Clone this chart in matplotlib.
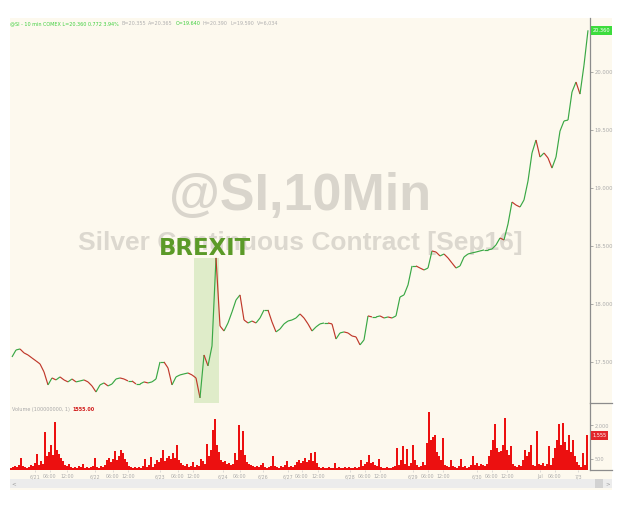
import matplotlib
matplotlib.use("Agg")
import matplotlib.pyplot as plt
import numpy as np
from matplotlib.collections import LineCollection
from matplotlib.patches import Rectangle
from matplotlib.lines import Line2D

# ---------------- data ----------------
price = [
    17.543, 17.603, 17.612, 17.578, 17.560, 17.534, 17.509, 17.483, 17.414, 17.302,
    17.362, 17.345, 17.371, 17.345, 17.328, 17.353, 17.328, 17.336, 17.345, 17.328,
    17.293, 17.241, 17.302, 17.319, 17.293, 17.310, 17.353, 17.362, 17.353, 17.336,
    17.336, 17.310, 17.310, 17.328, 17.319, 17.328, 17.353, 17.500, 17.500, 17.448,
    17.302, 17.371, 17.388, 17.397, 17.405, 17.388, 17.362, 17.190, 17.560, 17.466,
    17.638, 18.397, 17.810, 17.767, 17.836, 17.931, 18.034, 18.078, 17.862, 17.836,
    17.853, 17.836, 17.879, 17.948, 17.948, 17.845, 17.759, 17.784, 17.828, 17.853,
    17.862, 17.879, 17.914, 17.879, 17.828, 17.767, 17.802, 17.828, 17.836, 17.836,
    17.828, 17.698, 17.750, 17.759, 17.750, 17.724, 17.716, 17.647, 17.690, 17.897,
    17.888, 17.888, 17.897, 17.879, 17.888, 17.879, 17.897, 18.060, 18.078, 18.164,
    18.328, 18.328, 18.310, 18.293, 18.310, 18.457, 18.448, 18.414, 18.431, 18.397,
    18.353, 18.310, 18.328, 18.405, 18.431, 18.440, 18.448, 18.457, 18.466, 18.466,
    18.474, 18.509, 18.569, 18.552, 18.690, 18.879, 18.853, 18.836, 18.897, 19.060,
    19.302, 19.414, 19.267, 19.302, 19.259, 19.172, 19.267, 19.491, 19.578, 19.586,
    19.828, 19.914, 19.810, 20.060, 20.360,
]

volume = [
    90, 135, 180, 135, 225, 540, 180, 135, 90, 135,
    225, 180, 315, 720, 225, 405, 270, 1710, 630, 810,
    1125, 675, 2160, 900, 720, 540, 405, 225, 180, 270,
    135, 90, 135, 90, 180, 135, 270, 90, 135, 90,
    135, 180, 540, 135, 90, 180, 135, 225, 450, 540,
    360, 495, 855, 450, 630, 900, 765, 495, 360, 180,
    135, 90, 135, 90, 135, 90, 180, 495, 135, 225,
    585, 135, 270, 450, 360, 540, 900, 405, 540, 630,
    495, 765, 540, 1125, 450, 315, 225, 180, 270, 135,
    180, 360, 135, 225, 180, 495, 405, 270, 1170, 630,
    900, 1800, 2295, 1125, 810, 450, 360, 405, 270, 315,
    225, 270, 765, 450, 2025, 900, 1755, 675, 360, 270,
    225, 180, 135, 180, 135, 225, 315, 135, 90, 135,
    180, 630, 180, 135, 90, 180, 135, 225, 405, 135,
    180, 135, 225, 360, 450, 315, 405, 540, 360, 450,
    765, 405, 810, 315, 135, 90, 135, 90, 90, 135,
    90, 90, 315, 90, 135, 90, 90, 135, 90, 135,
    90, 90, 135, 90, 135, 450, 180, 270, 360, 675,
    315, 360, 225, 180, 495, 135, 90, 90, 135, 90,
    90, 135, 180, 990, 225, 450, 1080, 270, 945, 180,
    315, 1125, 450, 225, 135, 180, 360, 225, 1215, 2610,
    1350, 1485, 1575, 810, 630, 450, 1440, 225, 180, 135,
    450, 180, 135, 90, 180, 495, 135, 180, 90, 135,
    225, 630, 225, 315, 180, 270, 225, 180, 270, 630,
    900, 1350, 2070, 990, 810, 855, 1125, 2340, 900, 675,
    1080, 270, 180, 135, 225, 180, 450, 900, 630, 810,
    1125, 225, 180, 1755, 270, 225, 315, 180, 270, 1080,
    225, 540, 990, 1350, 2070, 1125, 2115, 1260, 900, 1575,
    810, 1350, 630, 360, 225, 135, 765, 225, 1555,
]

time_tick_slots = [12, 19.5, 28, 42, 51, 58.5, 74.5, 83.5, 91, 106, 114.5, 126,
                   138.5, 145.5, 153.5, 169.5, 177, 184.5, 201, 208.5, 216,
                   233, 240.5, 248, 264.5, 272, 283.5]
time_tick_labels = ["6/21", "06:00", "12:00", "6/22", "06:00", "12:00",
                    "6/23", "06:00", "12:00", "6/24", "06:00", "6/26",
                    "6/27", "06:00", "12:00", "6/28", "06:00", "12:00",
                    "6/29", "06:00", "12:00", "6/30", "06:00", "12:00",
                    "Jul", "06:00", "7/3"]
price_ticks = [17.5, 18.0, 18.5, 19.0, 19.5, 20.0]
volume_ticks = [500, 2000]
price_range = (17.146, 20.466)
volume_range = (0, 3000)
brexit_span = (91.5, 104.0)
brexit_top = 18.40

header_parts = [
    ("@SI - 10 min COMEX L=20.360 0.772 3.94%", "#3fcf3f"),
    ("B=20.355", "#b0b0b0"),
    ("A=20.365", "#b0b0b0"),
    ("O=19.640", "#3fcf3f"),
    ("H=20.390", "#b0b0b0"),
    ("L=19.590", "#b0b0b0"),
    ("V=6,034", "#b0b0b0"),
]

# ---------------- layout ----------------
W, H, DPI = 632, 507, 100
BG = "#fdf9ee"
AXC = "#8c8c8c"
LBL = "#ababab"


def fx(px):
    return px / W


def fy(py):
    return 1 - py / H


fig = plt.figure(figsize=(W / DPI, H / DPI), dpi=DPI, facecolor="white")
fig.patches.append(Rectangle((fx(10), fy(490)), fx(612) - fx(10), fy(18) - fy(490),
                             transform=fig.transFigure, facecolor=BG,
                             edgecolor="none", zorder=-5))

ax = fig.add_axes([fx(10), fy(403), fx(590) - fx(10), fy(18) - fy(403)])
axv = fig.add_axes([fx(10), fy(470), fx(590) - fx(10), fy(403) - fy(470)], sharex=ax)
for a in (ax, axv):
    a.set_facecolor("none")
    for s in ("top", "left", "bottom"):
        a.spines[s].set_visible(False)
    a.spines["right"].set_color(AXC)
    a.spines["right"].set_linewidth(0.9)
    a.yaxis.tick_right()

# price line, segments coloured by direction
xp = 2 * np.arange(len(price)) + 0.5
pts = np.column_stack([xp, price])
segs = np.stack([pts[:-1], pts[1:]], axis=1)
cols = ["#3aa845" if b >= a_ else "#c0392b" for a_, b in zip(price[:-1], price[1:])]
ax.add_collection(LineCollection(segs, colors=cols, linewidths=0.85, zorder=3))
ax.set_xlim(-0.5, len(volume) + 0.5)
ax.set_ylim(*price_range)

ax.axvspan(brexit_span[0], brexit_span[1], ymin=0,
           ymax=(brexit_top - price_range[0]) / (price_range[1] - price_range[0]),
           facecolor="#dfecc9", edgecolor="none", zorder=1)

ax.set_yticks(price_ticks)
ax.set_yticklabels([f"{v:.3f}" for v in price_ticks])
ax.tick_params(axis="y", direction="out", length=2, width=0.5, color=AXC,
               labelsize=3.8, labelcolor=LBL, pad=1.5)
ax.tick_params(axis="x", bottom=False, labelbottom=False)

# watermark + BREXIT
ax.text(fx(300), fy(210), "@SI,10Min", transform=fig.transFigure, ha="center",
        va="baseline", fontsize=37.5, fontweight="bold", family="Liberation Sans",
        color="#d9d5cc", zorder=0.5)
ax.text(fx(300), fy(250), "Silver Continuous Contract [Sep16]", transform=fig.transFigure,
        ha="center", va="baseline", fontsize=19, fontweight="bold",
        family="Liberation Sans", color="#dcd8cf", zorder=0.5)
ax.text(fx(205), fy(255), "BREXIT", transform=fig.transFigure, ha="center",
        va="baseline", fontsize=16.4, fontweight="bold", family="DejaVu Sans",
        color="#5b9a28", zorder=4)

# price tag
ax.annotate(f"{price[-1]:.3f}", xy=(1, price[-1]), xycoords=("axes fraction", "data"),
            xytext=(1.8, 0), textcoords="offset points", ha="left", va="center",
            fontsize=3.6, color="white", annotation_clip=False,
            bbox=dict(boxstyle="square,pad=0.35", fc="#3ddc3d", ec="none"))

# volume
axv.bar(np.arange(len(volume)), volume, width=1.0, color="#ec1010", linewidth=0, zorder=2)
axv.set_ylim(*volume_range)
axv.set_yticks(volume_ticks)
axv.set_yticklabels([f"{v:,}" for v in volume_ticks])
axv.tick_params(axis="y", direction="out", length=2, width=0.5, color=AXC,
                labelsize=3.6, labelcolor=LBL, pad=1.5)
axv.set_xticks(time_tick_slots)
axv.set_xticklabels(time_tick_labels)
axv.tick_params(axis="x", direction="out", length=1.5, width=0.4, color="#c0c0c0",
                labelsize=3.4, labelcolor=LBL, pad=1.5)
axv.annotate(f"{volume[-1]:,}", xy=(1, volume[-1]), xycoords=("axes fraction", "data"),
             xytext=(1.8, 0), textcoords="offset points", ha="left", va="center",
             fontsize=3.6, color="white", annotation_clip=False,
             bbox=dict(boxstyle="square,pad=0.35", fc="#e2262a", ec="none"))

# right-margin separators
for yy in (403, 470):
    fig.add_artist(Line2D([fx(590), fx(612)], [fy(yy), fy(yy)], color=AXC, lw=0.9))

# scrollbar
fig.patches.append(Rectangle((fx(10), fy(488)), fx(612) - fx(10), fy(479) - fy(488),
                             transform=fig.transFigure, facecolor="#ececec",
                             edgecolor="none", zorder=-4))
fig.patches.append(Rectangle((fx(595), fy(488)), fx(603) - fx(595), fy(479) - fy(488),
                             transform=fig.transFigure, facecolor="#d2d2d2",
                             edgecolor="none", zorder=-3))
fig.text(fx(14), fy(483.5), "<", fontsize=4, color="#999999", va="center", ha="center")
fig.text(fx(607.5), fy(483.5), ">", fontsize=4, color="#999999", va="center", ha="center")

# header and volume label, placed sequentially
renderer = fig.canvas.get_renderer()


def seq_text(x_px, y_px, parts, size, gap):
    x = x_px
    for s, c, *w in parts:
        t = fig.text(fx(x), fy(y_px), s, color=c, fontsize=size,
                     fontweight=(w[0] if w else "normal"), va="baseline", ha="left")
        x += t.get_window_extent(renderer).width + gap


seq_text(10, 25, header_parts, 3.5, 2.5)
seq_text(12, 411, [("Volume (100000000, 1)", "#a8a8a8"), ("1555.00", "#d11a1a", "bold")], 3.5, 3)

fig.savefig("out.png", dpi=DPI, facecolor="white")
